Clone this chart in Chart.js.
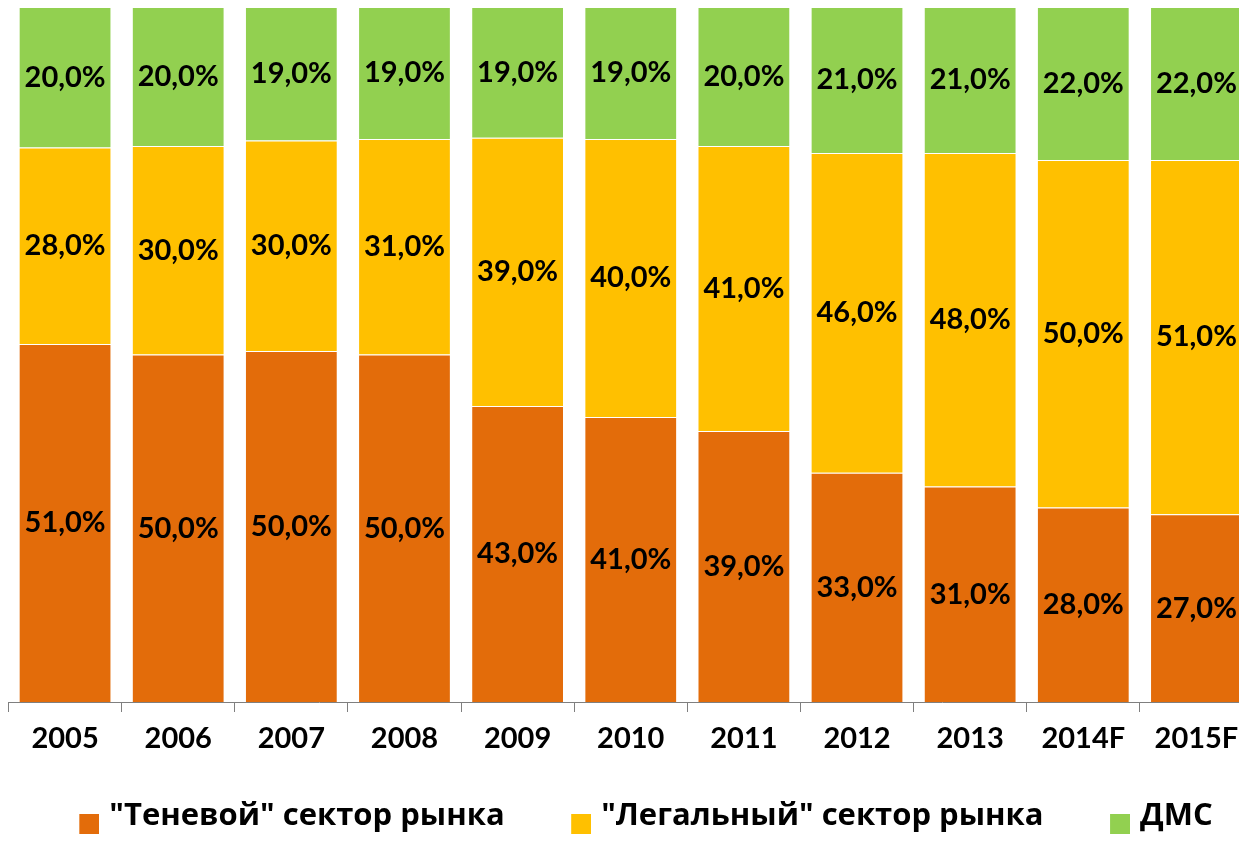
<!DOCTYPE html>
<html>
<head>
<meta charset="utf-8">
<script src="https://cdn.jsdelivr.net/npm/chart.js@4/dist/chart.umd.min.js"></script>
<style>
  html, body { margin: 0; padding: 0; background: #fff; overflow: hidden; }
  #wrap { width: 1253px; height: 841px; }
</style>
</head>
<body>
<div id="wrap"><canvas id="chart" width="1253" height="841"></canvas></div>
<script>
var years = ['2005', '2006', '2007', '2008', '2009', '2010', '2011', '2012', '2013', '2014F', '2015F'];
var shadow = [51, 50, 50, 50, 43, 41, 39, 33, 31, 28, 27];
var legal = [28, 30, 30, 31, 39, 40, 41, 46, 48, 50, 51];
var dms = [20, 20, 19, 19, 19, 19, 20, 21, 21, 22, 22];

var ORANGE = '#E36C0A';
var YELLOW = '#FFC000';
var GREEN = '#92D050';

var FONT = 'Lato, "Open Sans", sans-serif';
var LEGEND_FONT = '"Open Sans", Lato, sans-serif';

// 100% stacked: each column is scaled to its own total, labels keep raw values
function share(values, i) {
  var total = shadow[i] + legal[i] + dms[i];
  return values[i] / total * 100;
}
function toShares(values) {
  return values.map((v, i) => share(values, i));
}

function makeSet(label, values, color) {
  return {
    label: label,
    data: toShares(values),
    raw: values,
    backgroundColor: color,
    borderColor: 'rgba(255,255,255,0.5)',
    borderWidth: 1,
    categoryPercentage: 1,
    barPercentage: 0.82
  };
}

// legend marker: square sitting at the right/bottom of a wider canvas,
// so the items get more room between them than the vertical padding
function makeMarker(color) {
  var c = document.createElement('canvas');
  c.width = 56;
  c.height = 35;
  var g = c.getContext('2d');
  g.fillStyle = color;
  g.fillRect(36, 15, 20, 20);
  return c;
}
var markers = [makeMarker(ORANGE), makeMarker(YELLOW), makeMarker(GREEN)];

var valueLabels = {
  id: 'valueLabels',
  afterDatasetsDraw(chart) {
    var ctx = chart.ctx;
    ctx.save();
    ctx.font = 'bold 29px ' + FONT;
    ctx.fillStyle = '#000';
    ctx.textAlign = 'center';
    ctx.textBaseline = 'middle';
    chart.data.datasets.forEach((ds, d) => {
      var meta = chart.getDatasetMeta(d);
      meta.data.forEach((bar, i) => {
        var y = (bar.y + bar.base) / 2;
        ctx.fillText(ds.raw[i].toFixed(1).replace('.', ',') + '%', bar.x, y);
      });
    });
    ctx.restore();
  }
};

var ctx = document.getElementById('chart').getContext('2d');
var myChart = new Chart(ctx, {
  type: 'bar',
  data: {
    labels: years,
    datasets: [
      makeSet('"Теневой" сектор рынка', shadow, ORANGE),
      makeSet('"Легальный" сектор рынка', legal, YELLOW),
      makeSet('ДМС', dms, GREEN)
    ]
  },
  options: {
    responsive: false,
    animation: false,
    devicePixelRatio: 1,
    layout: { padding: { top: 7, left: 8.5, right: 0, bottom: 0 } },
    plugins: {
      tooltip: { enabled: false },
      legend: {
        position: 'bottom',
        maxHeight: 76,
        labels: {
          font: { family: LEGEND_FONT, size: 31, weight: 'bold' },
          color: '#000',
          usePointStyle: true,
          pointStyleWidth: 45,
          boxHeight: 20,
          padding: 36,
          generateLabels: function(chart) {
            var items = Chart.defaults.plugins.legend.labels.generateLabels(chart);
            items.forEach((item, i) => { item.pointStyle = markers[i]; });
            return items;
          }
        }
      }
    },
    scales: {
      x: {
        stacked: true,
        afterFit: function(scale) { scale.height = 63; },
        grid: {
          drawOnChartArea: false,
          drawTicks: true,
          tickLength: 10,
          color: '#7f7f7f'
        },
        border: { color: '#7f7f7f', width: 1 },
        ticks: {
          color: '#000',
          padding: 12,
          font: { family: FONT, size: 29, weight: 'bold', lineHeight: 1 }
        }
      },
      y: {
        stacked: true,
        display: false,
        min: 0,
        max: 100
      }
    }
  },
  plugins: [valueLabels]
});
</script>
</body>
</html>
